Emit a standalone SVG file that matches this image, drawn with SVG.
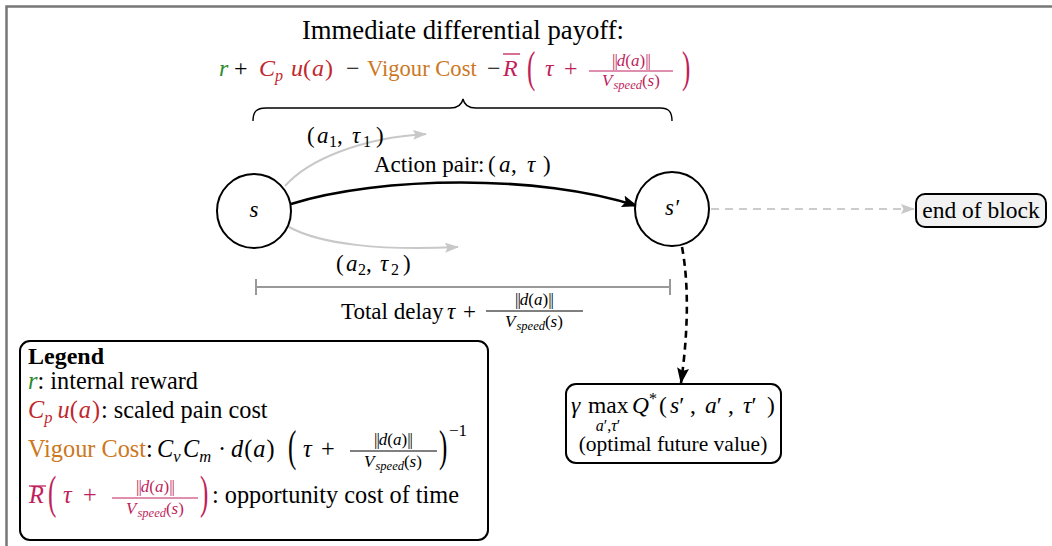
<svg xmlns="http://www.w3.org/2000/svg" width="1052" height="546" viewBox="0 0 1052 546">
  <style>
    .t { font-family: "Liberation Serif", "DejaVu Serif", serif; fill: #000; }
    .i { font-style: italic; }
    .b { font-weight: bold; }
    .nb { font-style: normal; letter-spacing: -1px; }
    .grn { fill: #2e8b2e; }
    .red { fill: #c0282d; }
    .org { fill: #cc7722; }
    .mag { fill: #c01f5c; }
    .node { fill: #fff; stroke: #000; stroke-width: 2; }
    .box { stroke: #000; stroke-width: 2; }
  </style>
  <defs>
    <marker id="arrBlack" markerUnits="userSpaceOnUse" markerWidth="18" markerHeight="14" refX="15" refY="6" orient="auto">
      <path d="M0,0 L16,6 L0,12 L3,6 Z" fill="#000"/>
    </marker>
    <marker id="arrGrey" markerUnits="userSpaceOnUse" markerWidth="16" markerHeight="12" refX="13" refY="5" orient="auto">
      <path d="M0,0 L14,5 L0,10 L2.5,5 Z" fill="#c8c8c8"/>
    </marker>
  </defs>

  <rect width="1052" height="546" fill="#fff"/>
  <!-- frame -->
  <path d="M6.5 546 V6.5 H1052" fill="none" stroke="#777" stroke-width="2.5"/>

  <!-- heading and payoff expression -->
  <g id="payoff">
    <text class="t" x="463" y="39" font-size="26.7" text-anchor="middle">Immediate differential payoff:</text>
    <text class="t" y="76" font-size="24"><tspan x="219" class="i grn">r</tspan><tspan x="234">+</tspan><tspan x="259" class="i red">C</tspan><tspan class="i red" font-size="16" dy="5">p</tspan><tspan x="291" dy="-5" class="i red">u</tspan><tspan class="red">(</tspan><tspan class="i red" dx="1">a</tspan><tspan class="red" dx="1">)</tspan><tspan x="346">−</tspan><tspan x="367" class="org" font-size="22.6">Vigour Cost</tspan><tspan x="487">−</tspan><tspan x="503" class="i mag">R</tspan><tspan x="545" class="i mag">τ</tspan><tspan x="564" class="mag">+</tspan></text>
    <line x1="503" y1="54" x2="520" y2="54" stroke="#c01f5c" stroke-width="1.3"/>
    <text class="t mag" transform="translate(527 82) scale(1 1.75)" font-size="25">(</text>
    <text class="t mag" transform="translate(682 82) scale(1 1.75)" font-size="25">)</text>
    <text class="t mag" x="631" y="66" font-size="17" text-anchor="middle"><tspan class="nb">||</tspan><tspan class="i">d</tspan>(<tspan class="i">a</tspan>)<tspan class="nb">||</tspan></text>
    <line x1="589" y1="71" x2="673" y2="71" stroke="#c01f5c" stroke-width="1"/>
    <text class="t mag" x="631" y="86" font-size="17" text-anchor="middle"><tspan class="i">V</tspan><tspan class="i" font-size="12.5" dy="3" dx="1">speed</tspan><tspan dy="-3">(</tspan><tspan class="i">s</tspan>)</text>
    <!-- brace -->
    <path d="M253 121 C253 112 256 108 266 108 L450 108 C458 108 462 104 463 99 C464 104 468 108 476 108 L660 108 C669 108 672 112 672 121" fill="none" stroke="#000" stroke-width="1.4"/>
  </g>

  <!-- connectors -->
  <g id="connectors" fill="none">
    <path d="M285 186 C308 160 360 138 426 134" stroke="#c8c8c8" stroke-width="2" marker-end="url(#arrGrey)"/>
    <path d="M289 227 C320 244 380 251 458 247" stroke="#c8c8c8" stroke-width="2" marker-end="url(#arrGrey)"/>
    <path d="M291 204 C380 176 540 174 637 206" stroke="#000" stroke-width="2.6" marker-end="url(#arrBlack)"/>
    <path d="M711 209 L914 209" stroke="#cccccc" stroke-width="2" stroke-dasharray="8 6" marker-end="url(#arrGrey)"/>
    <path d="M682 247 C690 290 687 340 681 383" stroke="#000" stroke-width="2.6" stroke-dasharray="7 5" marker-end="url(#arrBlack)"/>
    <!-- delay span -->
    <path d="M256 287 H670 M256 279 V295 M670 279 V295" stroke="#999" stroke-width="2"/>
  </g>

  <!-- edge labels -->
  <g id="labels">
    <text class="t" y="143" font-size="23"><tspan x="307">(</tspan><tspan x="317" class="i">a</tspan><tspan x="329" font-size="16" dy="4">1</tspan><tspan x="337" dy="-4">,</tspan><tspan x="352" class="i">τ</tspan><tspan x="363" font-size="16" dy="4">1</tspan><tspan x="376" dy="-4">)</tspan></text>
    <text class="t" x="374" y="172" font-size="23">Action pair:</text>
    <text class="t" y="172" font-size="23"><tspan x="488">(</tspan><tspan x="499" class="i">a</tspan><tspan x="511">,</tspan><tspan x="527" class="i">τ</tspan><tspan x="543">)</tspan></text>
    <text class="t" y="271" font-size="23"><tspan x="336">(</tspan><tspan x="346" class="i">a</tspan><tspan x="358" font-size="16" dy="4">2</tspan><tspan x="366" dy="-4">,</tspan><tspan x="380" class="i">τ</tspan><tspan x="391" font-size="16" dy="4">2</tspan><tspan x="403" dy="-4">)</tspan></text>
    <text class="t" y="319" font-size="23"><tspan x="341">Total delay</tspan><tspan x="447" class="i">τ</tspan><tspan x="463">+</tspan></text>
    <text class="t" x="534" y="305" font-size="17" text-anchor="middle"><tspan class="nb">||</tspan><tspan class="i">d</tspan>(<tspan class="i">a</tspan>)<tspan class="nb">||</tspan></text>
    <line x1="486" y1="311" x2="583" y2="311" stroke="#000" stroke-width="1"/>
    <text class="t" x="534" y="327" font-size="17" text-anchor="middle"><tspan class="i">V</tspan><tspan class="i" font-size="12.5" dy="3" dx="1">speed</tspan><tspan dy="-3">(</tspan><tspan class="i">s</tspan>)</text>
  </g>

  <!-- state nodes -->
  <g id="node-s">
    <circle class="node" cx="254" cy="211" r="37"/>
    <text class="t i" x="254" y="217" font-size="23" text-anchor="middle">s</text>
  </g>
  <g id="node-s-prime">
    <circle class="node" cx="672" cy="209" r="37"/>
    <text class="t i" x="672" y="215" font-size="23" text-anchor="middle">s′</text>
  </g>

  <g id="node-end">
    <rect class="box" x="916" y="194" width="130" height="33" rx="9" fill="#f2f2f2"/>
    <text class="t" x="981" y="218" font-size="23.5" text-anchor="middle">end of block</text>
  </g>

  <g id="node-future">
    <rect class="box" x="566" y="384" width="215" height="79" rx="10" fill="#fff"/>
    <text class="t" y="413" font-size="23.5"><tspan x="571" class="i">γ</tspan><tspan x="588">max</tspan><tspan x="632" class="i">Q</tspan><tspan x="649" font-size="16" dy="-9">*</tspan><tspan x="659" dy="9">(</tspan><tspan x="670" class="i">s</tspan><tspan>′</tspan><tspan x="690">,</tspan><tspan x="705" class="i">a</tspan><tspan>′</tspan><tspan x="728">,</tspan><tspan x="743" class="i">τ</tspan><tspan>′</tspan><tspan x="767">)</tspan></text>
    <text class="t" x="608" y="431" font-size="16" text-anchor="middle"><tspan class="i">a</tspan>′,<tspan class="i">τ</tspan>′</text>
    <text class="t" x="673" y="451" font-size="21.5" text-anchor="middle">(optimal future value)</text>
  </g>

  <g id="legend">
    <rect class="box" x="20" y="341" width="468" height="199" rx="10" fill="#fff"/>
    <text class="t b" x="28" y="364" font-size="24">Legend</text>
    <text class="t" x="28" y="389" font-size="24.3"><tspan class="i grn">r</tspan>: internal reward</text>
    <text class="t" x="28" y="418" font-size="24.3"><tspan class="i red">C</tspan><tspan class="i red" font-size="16.5" dy="5">p</tspan><tspan class="i red" dy="-5" dx="5">u</tspan><tspan class="red">(</tspan><tspan class="i red" dx="1">a</tspan><tspan class="red" dx="1">)</tspan><tspan dx="1">: scaled pain cost</tspan></text>
    <text class="t" y="457" font-size="24.3"><tspan x="28" class="org">Vigour Cost</tspan><tspan>:</tspan><tspan x="157" class="i">C</tspan><tspan class="i" font-size="16.5" dy="5">v</tspan><tspan x="183" dy="-5" class="i">C</tspan><tspan class="i" font-size="16.5" dy="5">m</tspan><tspan x="218" dy="-5">·</tspan><tspan x="231" class="i">d</tspan><tspan dx="1">(</tspan><tspan class="i" dx="1">a</tspan><tspan dx="1">)</tspan><tspan x="303" class="i">τ</tspan><tspan x="321">+</tspan></text>
    <text class="t" transform="translate(288 461) scale(1 1.75)" font-size="25">(</text>
    <text class="t" transform="translate(439 461) scale(1 1.75)" font-size="25">)</text>
    <text class="t" x="449" y="436" font-size="17">−1</text>
    <text class="t" x="393" y="445" font-size="17" text-anchor="middle"><tspan class="nb">||</tspan><tspan class="i">d</tspan>(<tspan class="i">a</tspan>)<tspan class="nb">||</tspan></text>
    <line x1="350" y1="451" x2="437" y2="451" stroke="#000" stroke-width="1"/>
    <text class="t" x="393" y="467" font-size="17" text-anchor="middle"><tspan class="i">V</tspan><tspan class="i" font-size="12.5" dy="3" dx="1">speed</tspan><tspan dy="-3">(</tspan><tspan class="i">s</tspan>)</text>

    <text class="t" y="503" font-size="24.3"><tspan x="29" class="i mag">R</tspan><tspan x="63" class="i mag">τ</tspan><tspan x="83" class="mag">+</tspan><tspan x="212">: opportunity cost of time</tspan></text>
    <line x1="29" y1="486" x2="46" y2="486" stroke="#c01f5c" stroke-width="1.3"/>
    <text class="t mag" transform="translate(48 508) scale(1 1.85)" font-size="25">(</text>
    <text class="t mag" transform="translate(200 508) scale(1 1.85)" font-size="25">)</text>
    <text class="t mag" x="155" y="492" font-size="17" text-anchor="middle"><tspan class="nb">||</tspan><tspan class="i">d</tspan>(<tspan class="i">a</tspan>)<tspan class="nb">||</tspan></text>
    <line x1="112" y1="498" x2="198" y2="498" stroke="#c01f5c" stroke-width="1"/>
    <text class="t mag" x="155" y="514" font-size="17" text-anchor="middle"><tspan class="i">V</tspan><tspan class="i" font-size="12.5" dy="3" dx="1">speed</tspan><tspan dy="-3">(</tspan><tspan class="i">s</tspan>)</text>
  </g>
</svg>
